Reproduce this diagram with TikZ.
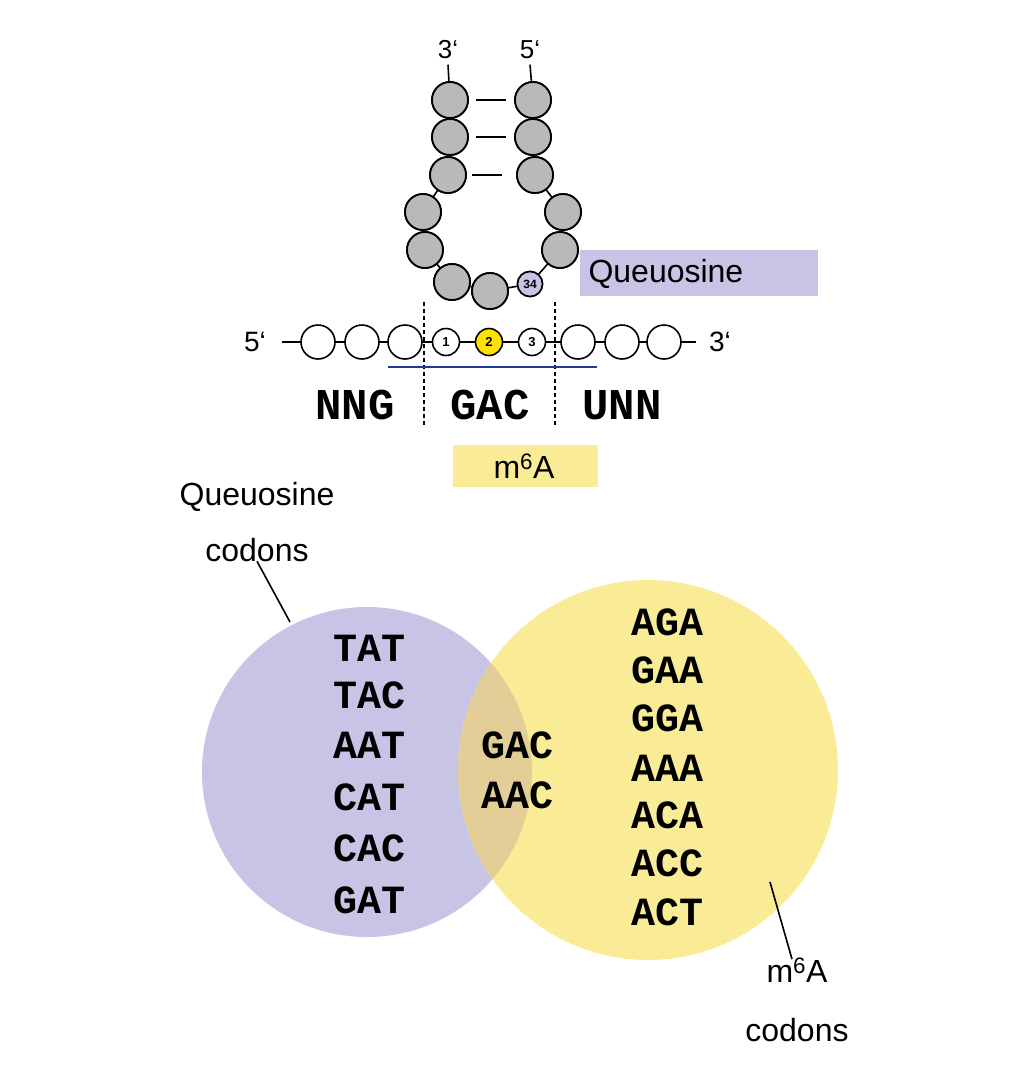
\documentclass[tikz,border=0pt]{standalone}
\usepackage{fontspec}
\usetikzlibrary{calc}
\setmainfont{Liberation Sans}
\newfontfamily\mono{Liberation Mono}
\begin{document}
\begin{tikzpicture}[x=1pt,y=-1pt,
 g/.style={circle,draw,line width=1.8pt,fill=gray!55,minimum size=36pt,inner sep=0},
 w/.style={circle,draw,line width=1.6pt,fill=white,minimum size=34pt,inner sep=0},
 n/.style={circle,draw,line width=1.6pt,fill=white,minimum size=27pt,inner sep=0,font=\bfseries\fontsize{13}{13}\selectfont},
 lbl/.style={font=\fontsize{32}{36}\selectfont},
 cod/.style={font=\mono\bfseries\fontsize{40}{40}\selectfont},
 ln/.style={line width=1.6pt}]
\definecolor{lav}{RGB}{200,196,230}
\definecolor{ylw}{RGB}{250,236,150}
\definecolor{tan}{RGB}{226,206,150}
\definecolor{blu}{RGB}{30,60,150}
\useasboundingbox (0,0) rectangle (1014,1080);
% boxes
\fill[lav] (580,250) rectangle (818,296);
\node[lbl,anchor=west] (q) at (585,274) {Queuosine};
\fill[ylw] (453,445) rectangle (598,487);
\node[lbl] (m) at (524,466) {m\textsuperscript{6}A};
% stem loop
\node[font=\fontsize{26}{26}\selectfont] (t3) at (448,50) {3‘};
\node[font=\fontsize{26}{26}\selectfont] (t5) at (530,50) {5‘};
\node[g] (a1) at (450,100) {};
\node[g] (a2) at (450,137) {};
\node[g] (a3) at (448,175) {};
\node[g] (a4) at (423,212) {};
\node[g] (a5) at (425,250) {};
\node[g] (a6) at (452,282) {};
\node[g] (a7) at (490,291) {};
\node[circle,draw,line width=1.6pt,fill=lav,minimum size=25pt,inner sep=0,font=\bfseries\fontsize{12}{12}\selectfont] (a8) at (530,284) {34};
\node[g] (a9) at (560,250) {};
\node[g] (a10) at (563,212) {};
\node[g] (a11) at (535,175) {};
\node[g] (a12) at (533,137) {};
\node[g] (a13) at (533,100) {};
\draw[ln] ($(t3.south)+(0,2)$) -- (a1);
\draw[ln] ($(t5.south)+(0,2)$) -- (a13);
\foreach \i/\j in {a1/a2,a2/a3,a3/a4,a4/a5,a5/a6,a6/a7,a7/a8,a8/a9,a9/a10,a10/a11,a11/a12,a12/a13}
 \draw[ln] (\i) -- (\j);
\foreach \y in {100,137}{\draw[line width=2pt] (476,\y) -- (506,\y);}
\draw[line width=2pt] (472,175) -- (502,175);
\foreach \x/\y in {450/100,450/137,448/175,423/212,425/250,452/282,490/291,560/250,563/212,535/175,533/137,533/100}
 \node[g] at (\x,\y) {};
\node[circle,draw,line width=1.6pt,fill=lav,minimum size=25pt,inner sep=0,font=\bfseries\fontsize{12}{12}\selectfont] at (530,284) {34};
% mRNA
\node[font=\fontsize{28}{28}\selectfont] (p5) at (255,342) {5‘};
\node[font=\fontsize{28}{28}\selectfont] (p3) at (720,342) {3‘};
\coordinate (L) at (282,342);
\coordinate (R) at (696,342);
\draw[ln] (L) -- (R);
\node[w] (m1) at (318,342) {};
\node[w] (m2) at (362,342) {};
\node[w] (m3) at (405,342) {};
\node[n] (m4) at (446,342) {1};
\node[n,fill=yellow!85!orange] (m5) at (489,342) {2};
\node[n] (m6) at (532,342) {3};
\node[w] (m7) at (578,342) {};
\node[w] (m8) at (622,342) {};
\node[w] (m9) at (664,342) {};
\draw[line width=1.3pt,dash pattern=on 4pt off 3pt] (424,302) -- (424,425);
\draw[line width=1.3pt,dash pattern=on 4pt off 3pt] (555,302) -- (555,425);
\draw[blu,line width=1.6pt] (388,367) -- (597,367);
\node[font=\mono\bfseries\fontsize{44}{44}\selectfont] (c1) at (355,405) {NNG};
\node[font=\mono\bfseries\fontsize{44}{44}\selectfont] (c2) at (490,405) {GAC};
\node[font=\mono\bfseries\fontsize{44}{44}\selectfont] (c3) at (622,405) {UNN};
% Venn
\fill[lav] (367,772) circle (165);
\fill[ylw] (648,770) circle (190);
\begin{scope}\clip (367,772) circle (165); \fill[tan] (648,770) circle (190);\end{scope}
\foreach \t/\y in {TAT/648,TAC/695,AAT/745,CAT/797,CAC/848,GAT/900}
 \node[cod] at (370,\y) {\t};
\foreach \t/\y in {GAC/745,AAC/795}
 \node[cod] at (518,\y) {\t};
\foreach \t/\y in {AGA/622,GAA/670,GGA/718,AAA/768,ACA/815,ACC/863,ACT/912}
 \node[cod] at (668,\y) {\t};
\node[lbl] (ql1) at (257,497) {Queuosine};
\node[lbl] (ql2) at (257,550) {codons};
\coordinate (qa) at (290,622);
\draw[ln] ($(ql2.south)+(0,-4)$) -- (qa);
\node[lbl] (ml1) at (797,970) {m\textsuperscript{6}A};
\node[lbl] (ml2) at (797,1030) {codons};
\coordinate (ma) at (770,882);
\draw[ln] (ma) -- ($(ml1.north)+(-5,5)$);
\end{tikzpicture}
\end{document}
